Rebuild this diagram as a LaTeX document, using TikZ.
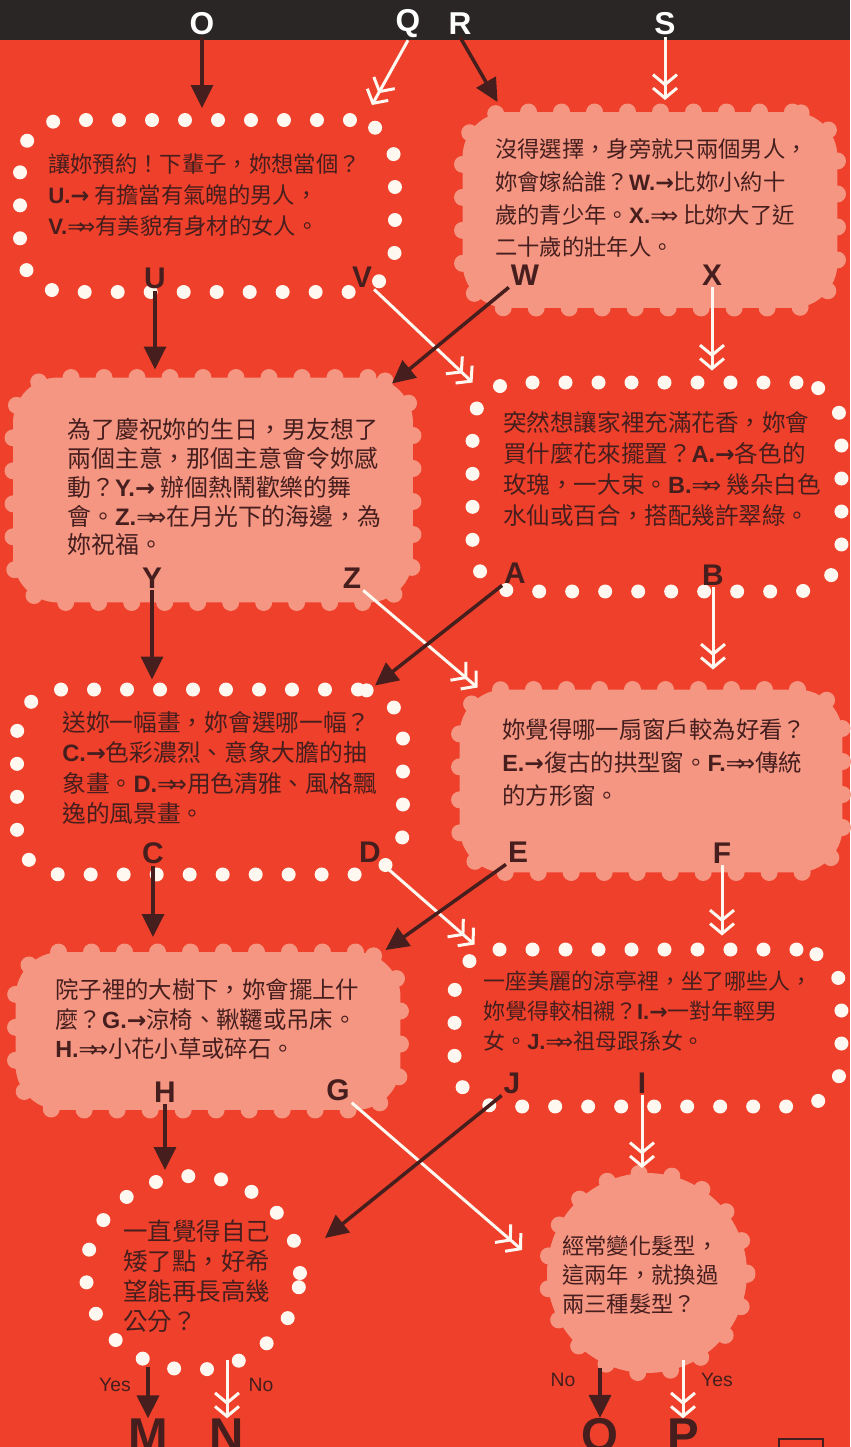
\documentclass[tikz,border=0pt]{standalone}
\usepackage{fontspec}
\setmainfont{Liberation Sans}
\newfontfamily\cjk{Noto Sans CJK TC}
\newfontfamily\lat{Liberation Sans}
\newfontfamily\symf{DejaVu Sans}
\usetikzlibrary{shapes.geometric, arrows.meta, calc}
\definecolor{bgred}{RGB}{238,64,42}
\definecolor{pinkbox}{RGB}{244,150,130}
\definecolor{topbar}{RGB}{43,38,38}
\definecolor{ink}{RGB}{70,30,30}
\definecolor{dotwhite}{RGB}{255,248,240}
\newcommand\qfont[2]{\cjk\fontsize{#1}{#2}\selectfont}
\newcommand\one[1]{{\lat\bfseries #1.}{\symf\bfseries →}}
\newcommand\two[1]{{\lat\bfseries #1.}{\symf ⇒\kern-.42em⇒}}
\tikzstyle{whitedots} = [rounded corners=0.9cm, draw=dotwhite, line width=0.28cm, dash pattern=on 0pt off 0.66cm, line cap=round, outer sep=0pt]
\tikzstyle{pinkdots} = [rounded corners=0.9cm, draw=pinkbox, fill=pinkbox, line width=0.34cm, dash pattern=on 0pt off 0.66cm, line cap=round, outer sep=0pt]
\tikzstyle{qtext} = [align=left, anchor=north west, inner sep=0pt, text=ink]
\tikzstyle{choice} = [font=\lat\bfseries\fontsize{17}{17}\selectfont, text=ink, inner sep=1pt]
\tikzstyle{toplabel} = [font=\lat\bfseries\fontsize{18}{18}\selectfont, text=white, inner sep=1pt]
\tikzstyle{result} = [font=\lat\bfseries\fontsize{27}{27}\selectfont, text=ink, inner sep=0pt]
\tikzstyle{answer} = [font=\lat\fontsize{11}{11}\selectfont, text=ink, inner sep=1pt]
\tikzstyle{blackarrow} = [draw=ink, line width=0.07cm, -{Triangle[length=0.46cm,width=0.44cm]}]
\tikzstyle{whitearrow} = [draw=dotwhite, line width=0.06cm, -{Straight Barb[length=0.2cm,width=0.48cm] Straight Barb[length=0.2cm,width=0.48cm]}]

\begin{document}
\begin{tikzpicture}[x=0.02cm, y=-0.02cm]
	\fill [bgred] (0,0) rectangle (850,1447);
	\fill [topbar] (0,0) rectangle (850,40);
	\useasboundingbox (0,0) rectangle (850,1447);

	\node (topO) [toplabel] at (202,24) {O};
	\node (topQ) [toplabel] at (408,24) {Q};
	\node (topR) [toplabel] at (460,24) {R};
	\node (topS) [toplabel] at (665,24) {S};

	\node (q1) [whitedots, rectangle, minimum width=7.5cm, minimum height=3.44cm] at (207.5,206) {};
	\node (q2) [pinkdots, rectangle, minimum width=7.5cm, minimum height=3.92cm] at (650,210) {};
	\node (q3) [pinkdots, rectangle, minimum width=8cm, minimum height=4.5cm] at (213,490) {};
	\node (q4) [whitedots, rectangle, minimum width=7.38cm, minimum height=4.18cm] at (657,487) {};
	\node (q5) [whitedots, rectangle, minimum width=7.72cm, minimum height=3.7cm] at (210,782) {};
	\node (q6) [pinkdots, rectangle, minimum width=7.66cm, minimum height=3.66cm] at (651,781) {};
	\node (q7) [pinkdots, rectangle, minimum width=7.7cm, minimum height=3.16cm] at (208,1031) {};
	\node (q8) [whitedots, rectangle, minimum width=7.74cm, minimum height=3.14cm] at (648,1028) {};
	\node (end1) [whitedots, ellipse, minimum width=4.28cm, minimum height=3.88cm] at (193,1273) {};
	\node (end2) [pinkdots, circle, minimum size=4cm] at (647,1273) {};

	\node (t1) [qtext, font=\qfont{12.7}{17.8}] at (48,153) {讓妳預約！下輩子，妳想當個？\\ \one{U} 有擔當有氣魄的男人，\\ \two{V}有美貌有身材的女人。};
	\node (t2) [qtext, font=\qfont{12.7}{18.7}] at (495,138) {沒得選擇，身旁就只兩個男人，\\ 妳會嫁給誰？\one{W}比妳小約十\\ 歲的青少年。\two{X} 比妳大了近\\ 二十歲的壯年人。};
	\node (t3) [qtext, font=\qfont{13.6}{16.4}] at (67,418) {為了慶祝妳的生日，男友想了\\ 兩個主意，那個主意會令妳感\\ 動？\one{Y} 辦個熱鬧歡樂的舞\\ 會。\two{Z}在月光下的海邊，為\\ 妳祝福。};
	\node (t4) [qtext, font=\qfont{13.4}{17.6}] at (503,411) {突然想讓家裡充滿花香，妳會\\ 買什麼花來擺置？\one{A}各色的\\ 玫瑰，一大束。\two{B} 幾朵白色\\ 水仙或百合，搭配幾許翠綠。};
	\node (t5) [qtext, font=\qfont{13.5}{17.3}] at (62,711) {送妳一幅畫，妳會選哪一幅？\\ \one{C}色彩濃烈、意象大膽的抽\\ 象畫。\two{D}用色清雅、風格飄\\ 逸的風景畫。};
	\node (t6) [qtext, font=\qfont{13.3}{19}] at (502,718) {妳覺得哪一扇窗戶較為好看？\\ \one{E}復古的拱型窗。\two{F}傳統\\ 的方形窗。};
	\node (t7) [qtext, font=\qfont{13.3}{17}] at (55,978) {院子裡的大樹下，妳會擺上什\\ 麼？\one{G}涼椅、鞦韆或吊床。\\ \two{H}小花小草或碎石。};
	\node (t8) [qtext, font=\qfont{12.5}{17}] at (483,971) {一座美麗的涼亭裡，坐了哪些人，\\ 妳覺得較相襯？\one{I}一對年輕男\\ 女。\two{J}祖母跟孫女。};
	\node (t9) [qtext, font=\qfont{13.9}{17}] at (123,1220) {一直覺得自己\\ 矮了點，好希\\ 望能再長高幾\\ 公分？};
	\node (t10) [qtext, font=\qfont{12.7}{16.5}] at (562,1235) {經常變化髮型，\\ 這兩年，就換過\\ 兩三種髮型？};

	\node (labU) [choice] at (155,278) {U};
	\node (labV) [choice] at (362,277) {V};
	\node (labW) [choice] at (525,275) {W};
	\node (labX) [choice] at (712,275) {X};
	\node (labY) [choice] at (152,578) {Y};
	\node (labZ) [choice] at (352,578) {Z};
	\node (labA) [choice] at (515,573) {A};
	\node (labB) [choice] at (713,575) {B};
	\node (labC) [choice] at (153,853) {C};
	\node (labD) [choice] at (370,852) {D};
	\node (labE) [choice] at (518,852) {E};
	\node (labF) [choice] at (722,853) {F};
	\node (labH) [choice] at (165,1092) {H};
	\node (labG) [choice] at (338,1090) {G};
	\node (labJ) [choice] at (512,1083) {J};
	\node (labI) [choice] at (642,1083) {I};

	\node (outM) [result] at (148,1435) {M};
	\node (outN) [result] at (227,1435) {N};
	\node (outO) [result] at (600,1435) {O};
	\node (outP) [result] at (683,1435) {P};
	\node (yes1) [answer] at (115,1385) {Yes};
	\node (no1) [answer] at (261,1385) {No};
	\node (no2) [answer] at (563,1380) {No};
	\node (yes2) [answer] at (717,1380) {Yes};

	\draw [blackarrow] (topO.south) -- ($(topO |- q1.north)+(0,-12)$);
	\draw [whitearrow] (topQ.south) -- ($(q1.north east)+(-23,-15)$);
	\draw [blackarrow] (topR.south) -- ($(q2.north west)+(35,-10)$);
	\draw [whitearrow] (topS.south) -- ($(topS |- q2.north)+(0,-12)$);
	\draw [blackarrow] (labU.south) -- ($(labU |- q3.north)+(0,-8)$);
	\draw [whitearrow] (labV.south east) -- (q4.north west);
	\draw [blackarrow] (labW.south west) -- ($(q3.north east)+(-21,6)$);
	\draw [whitearrow] (labX.south) -- ($(labX |- q4.north)+(0,-12)$);
	\draw [blackarrow] (labY.south) -- ($(labY |- q5.north)+(0,-10)$);
	\draw [whitearrow] (labZ.south east) -- ($(q6.north west)+(18,-2)$);
	\draw [blackarrow] (labA.south west) -- ($(q5.north east)+(-28,-4)$);
	\draw [whitearrow] (labB.south) -- ($(labB |- q6.north)+(0,-20)$);
	\draw [blackarrow] (labC.south) -- ($(labC |- q7.north)+(0,-15)$);
	\draw [whitearrow] (labD.south east) -- ($(q8.north west)+(20,-5)$);
	\draw [blackarrow] (labE.south west) -- ($(q7.north east)+(-15,-2)$);
	\draw [whitearrow] (labF.south) -- ($(labF |- q8.north)+(0,-14)$);
	\draw [blackarrow] (labH.south) -- ($(labH |- end1.north)+(0,-6)$);
	\draw [whitearrow] (labG.south east) -- ($(end2.west)+(-25,-23)$);
	\draw [blackarrow] (labJ.south west) -- ($(end1.east)+(25,-35)$);
	\draw [whitearrow] (labI.south) -- ($(labI |- end2.north)+(0,-5)$);
	\draw [blackarrow] ($(outM |- end1.south)+(0,-3)$) -- (outM.north);
	\draw [whitearrow] ($(outN |- end1.south)+(0,-10)$) -- (outN.north);
	\draw [blackarrow] ($(outO |- end2.south)+(0,-5)$) -- (outO.north);
	\draw [whitearrow] ($(outP |- end2.south)+(0,-13)$) -- (outP.north);

	\draw [ink, line width=0.04cm] (779,1439) rectangle (823,1462);
\end{tikzpicture}
\end{document}
